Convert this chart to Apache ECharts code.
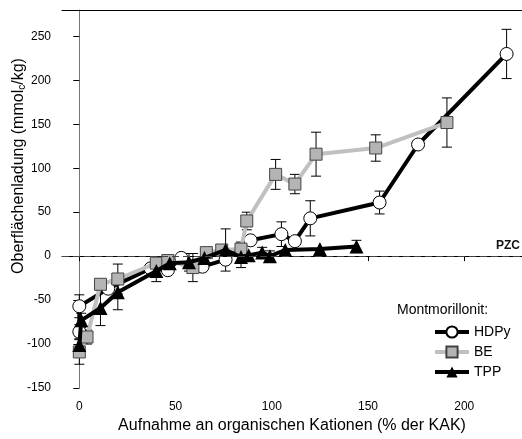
<!DOCTYPE html>
<html>
<head>
    <meta charset="utf-8">
    <title>Oberflächenladung</title>
    <script src="https://cdn.jsdelivr.net/npm/echarts@6/dist/echarts.min.js"></script>
    <style>
        html, body { margin: 0; padding: 0; background: #fff; }
    </style>
</head>
<body>
<div id="main" style="width: 522px;height:439px;"></div>

<script type="text/javascript">
    // Daten
    var hdpyX   = [0, 0, 15, 37, 46, 53, 64, 76, 89, 105, 112, 120, 156, 176, 222];
    var hdpyY   = [-86, -57, -37, -14, -16, -2, -12, -4, 18, 25, 17, 43, 61, 127, 230];
    var hdpyErr = [8, 13, 0, 0, 0, 0, 0, 0, 0, 14, 0, 20, 13, 0, 28];

    var beX   = [0, 4, 11, 20, 40, 46, 59, 66, 74, 84, 87, 102, 112, 123, 154, 191];
    var beY   = [-109, -92, -32, -26, -8, -5, -13, 4, 7, 8, 40, 93, 82, 116, 123, 152];
    var beErr = [14, 8, 0, 17, 0, 0, 16, 0, 0, 8, 10, 17, 11, 25, 15, 28];

    var tppX   = [0, 1, 11, 20, 40, 47, 57, 65, 76, 84, 88, 95, 99, 107, 125, 144];
    var tppY   = [-101, -73, -59, -41, -17, -8, -7, -2, 7, -1, 1, 4, 0, 7, 8, 11];
    var tppErr = [10, 8, 20, 20, 12, 0, 10, 0, 24, 12, 0, 6, 6, 0, 0, 7];

    var xTicks = [0, 50, 100, 150, 200];
    var yTicks = [-150, -100, -50, 0, 50, 100, 150, 200, 250];

    var font = 'Liberation Sans, Arial, sans-serif';

    function pairs(xs, ys) {
        return xs.map(function (x, i) { return [x, ys[i]]; });
    }

    // Fehlerbalken als custom series
    function errSeries(xs, ys, es) {
        var d = [];
        for (var i = 0; i < xs.length; i++) {
            if (es[i] > 0) d.push([xs[i], ys[i] - es[i], ys[i] + es[i]]);
        }
        return {
            type: 'custom',
            data: d,
            encode: { x: 0, y: [1, 2] },
            z: 1,
            silent: true,
            renderItem: function (params, api) {
                var lo = api.coord([api.value(0), api.value(1)]);
                var hi = api.coord([api.value(0), api.value(2)]);
                var w = 5;
                var st = { stroke: '#000', lineWidth: 1 };
                return {
                    type: 'group',
                    children: [
                        { type: 'line', shape: { x1: lo[0], y1: lo[1], x2: hi[0], y2: hi[1] }, style: st },
                        { type: 'line', shape: { x1: lo[0] - w, y1: lo[1], x2: lo[0] + w, y2: lo[1] }, style: st },
                        { type: 'line', shape: { x1: hi[0] - w, y1: hi[1], x2: hi[0] + w, y2: hi[1] }, style: st }
                    ]
                };
            }
        };
    }

    var myChart = echarts.init(document.getElementById('main'));

    var option = {
        backgroundColor: '#fff',
        animation: false,
        textStyle: { fontFamily: font },
        grid: { left: 62, top: 10, right: 0, bottom: 50 },
        legend: {
            orient: 'vertical',
            left: 428,
            top: 320,
            itemWidth: 34,
            itemHeight: 14,
            itemGap: 6,
            lineStyle: { width: 4 },
            textStyle: { fontSize: 14, color: '#000', fontFamily: font },
            data: ['HDPy', 'BE', 'TPP']
        },
        graphic: [
            {
                type: 'text',
                left: 397,
                top: 303,
                style: { text: 'Montmorillonit:', font: '14px ' + font, fill: '#000' }
            },
            {
                type: 'text',
                x: 19,
                y: 166,
                rotation: Math.PI / 2,
                style: {
                    text: '{a|Oberflächenladung (mmol}{s|c}{a|/kg)}',
                    align: 'center',
                    verticalAlign: 'middle',
                    rich: {
                        a: { fontSize: 16, fontFamily: font, color: '#000' },
                        s: { fontSize: 10, fontFamily: font, color: '#000', verticalAlign: 'bottom', padding: [7, 0, 0, 0] }
                    }
                }
            }
        ],
        xAxis: [{
            type: 'value',
            min: -9,
            max: 230,
            name: 'Aufnahme an organischen Kationen (% der KAK)',
            nameLocation: 'middle',
            nameGap: 30,
            nameTextStyle: { fontSize: 16, color: '#000', fontFamily: font },
            splitLine: { show: false },
            axisLine: { lineStyle: { color: '#000', width: 1 } },
            axisTick: { length: 5, customValues: xTicks, lineStyle: { color: '#000' } },
            axisLabel: { customValues: xTicks, margin: 13, fontSize: 12, color: '#000' }
        }, {
            type: 'value',
            position: 'top',
            min: -9,
            max: 230,
            splitLine: { show: false },
            axisLine: { show: true, lineStyle: { color: '#000', width: 1 } },
            axisTick: { show: false },
            axisLabel: { show: false }
        }],
        yAxis: {
            type: 'value',
            min: -150,
            max: 280,
            splitLine: { show: false },
            axisLine: { show: true, lineStyle: { color: '#777', width: 1 } },
            axisTick: { show: true, length: 6, customValues: yTicks, lineStyle: { color: '#000' } },
            axisLabel: { customValues: yTicks, margin: 11, fontSize: 12, color: '#000' }
        },
        series: [
            errSeries(hdpyX, hdpyY, hdpyErr),
            errSeries(beX, beY, beErr),
            errSeries(tppX, tppY, tppErr),
            {
                name: 'HDPy',
                type: 'line',
                data: pairs(hdpyX, hdpyY),
                z: 2,
                symbol: 'circle',
                symbolSize: 13,
                showAllSymbol: true,
                lineStyle: { color: '#000', width: 4 },
                itemStyle: { color: '#fff', borderColor: '#000', borderWidth: 1 }
            },
            {
                name: 'BE',
                type: 'line',
                data: pairs(beX, beY),
                z: 3,
                symbol: 'rect',
                symbolSize: 12,
                showAllSymbol: true,
                lineStyle: { color: '#c0c0c0', width: 4 },
                itemStyle: { color: '#b4b4b4', borderColor: '#444', borderWidth: 1 }
            },
            {
                name: 'TPP',
                type: 'line',
                data: pairs(tppX, tppY),
                z: 4,
                symbol: 'triangle',
                symbolSize: 14,
                showAllSymbol: true,
                lineStyle: { color: '#000', width: 4 },
                itemStyle: { color: '#000' },
                markLine: {
                    silent: true,
                    symbol: 'none',
                    lineStyle: { color: '#444', type: [7, 4], width: 1 },
                    label: {
                        show: true,
                        position: 'insideEndTop',
                        formatter: 'PZC',
                        fontWeight: 'bold',
                        fontSize: 12,
                        color: '#111',
                        distance: [2, 4]
                    },
                    data: [{ yAxis: 0 }]
                }
            }
        ]
    };

    myChart.setOption(option);
</script>
</body>
</html>
